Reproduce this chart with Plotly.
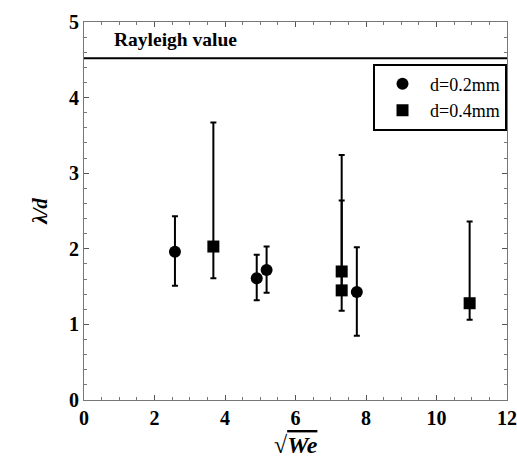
import plotly.graph_objects as go

# d = 0.2 mm (circles)
x_02 = [2.58, 4.90, 5.18, 7.74]
y_02 = [1.96, 1.61, 1.72, 1.43]
hi_02 = [2.43, 1.92, 2.03, 2.02]
lo_02 = [1.51, 1.32, 1.42, 0.85]

# d = 0.4 mm (squares)
x_04 = [3.67, 7.31, 7.31, 10.94]
y_04 = [2.03, 1.70, 1.45, 1.28]
hi_04 = [3.67, 3.24, 2.64, 2.36]
lo_04 = [1.61, 1.45, 1.18, 1.06]

rayleigh = 4.52

def err(y, hi, lo):
    return dict(type="data", symmetric=False,
                array=[h - v for h, v in zip(hi, y)],
                arrayminus=[v - l for v, l in zip(y, lo)],
                color="black", thickness=2, width=3)

fig = go.Figure()
fig.add_trace(go.Scatter(x=x_02, y=y_02, mode="markers", name="d=0.2mm",
                         marker=dict(symbol="circle", size=12, color="black"),
                         error_y=err(y_02, hi_02, lo_02)))
fig.add_trace(go.Scatter(x=x_04, y=y_04, mode="markers", name="d=0.4mm",
                         marker=dict(symbol="square", size=12, color="black"),
                         error_y=err(y_04, hi_04, lo_04)))
fig.add_trace(go.Scatter(x=[0, 12], y=[rayleigh, rayleigh], mode="lines",
                         line=dict(color="black", width=2), showlegend=False))

fig.add_annotation(x=0.78, y=4.77, xanchor="left", yanchor="middle",
                   text="<b>Rayleigh value</b>", showarrow=False,
                   font=dict(family="Liberation Serif", size=19.5, color="black"))

fig.add_annotation(xref="paper", yref="paper", x=0.5, y=-0.118,
                   xanchor="center", yanchor="middle", showarrow=False,
                   text="√<span style='text-decoration:overline'><b><i>We</i></b></span>",
                   font=dict(family="Liberation Serif", size=24, color="black"))

axis_common = dict(showgrid=False, zeroline=False, showline=True, linecolor="#777",
                   linewidth=1, mirror="ticks", ticks="inside", ticklen=5,
                   tickcolor="#555", automargin=False,
                   tickfont=dict(family="Liberation Serif", size=20, color="black"),
                   minor=dict(ticks="inside", ticklen=3, tickcolor="#777"))

fig.update_xaxes(range=[0, 12], dtick=2, tickprefix="<b>", ticksuffix="</b>",
                 **axis_common)
fig.update_yaxes(range=[0, 5], dtick=1, tickprefix="<b>", ticksuffix="</b>",
                 title=dict(text="<b><i>λ/d</i></b>",
                            font=dict(family="Liberation Serif", size=21, color="black")),
                 **axis_common)

fig.update_layout(width=517, height=469, margin=dict(l=84, r=10, t=22, b=69),
                  plot_bgcolor="white", paper_bgcolor="white",
                  legend=dict(x=1.0, y=0.89, xanchor="right", yanchor="top",
                              bordercolor="black", borderwidth=2, bgcolor="white",
                              font=dict(family="Liberation Serif", size=18, color="black"),
                              itemwidth=45, tracegroupgap=0))

fig.write_html("out.html", config={"displayModeBar": False},
               post_script="document.body.style.margin='0';document.body.style.overflow='hidden';")
